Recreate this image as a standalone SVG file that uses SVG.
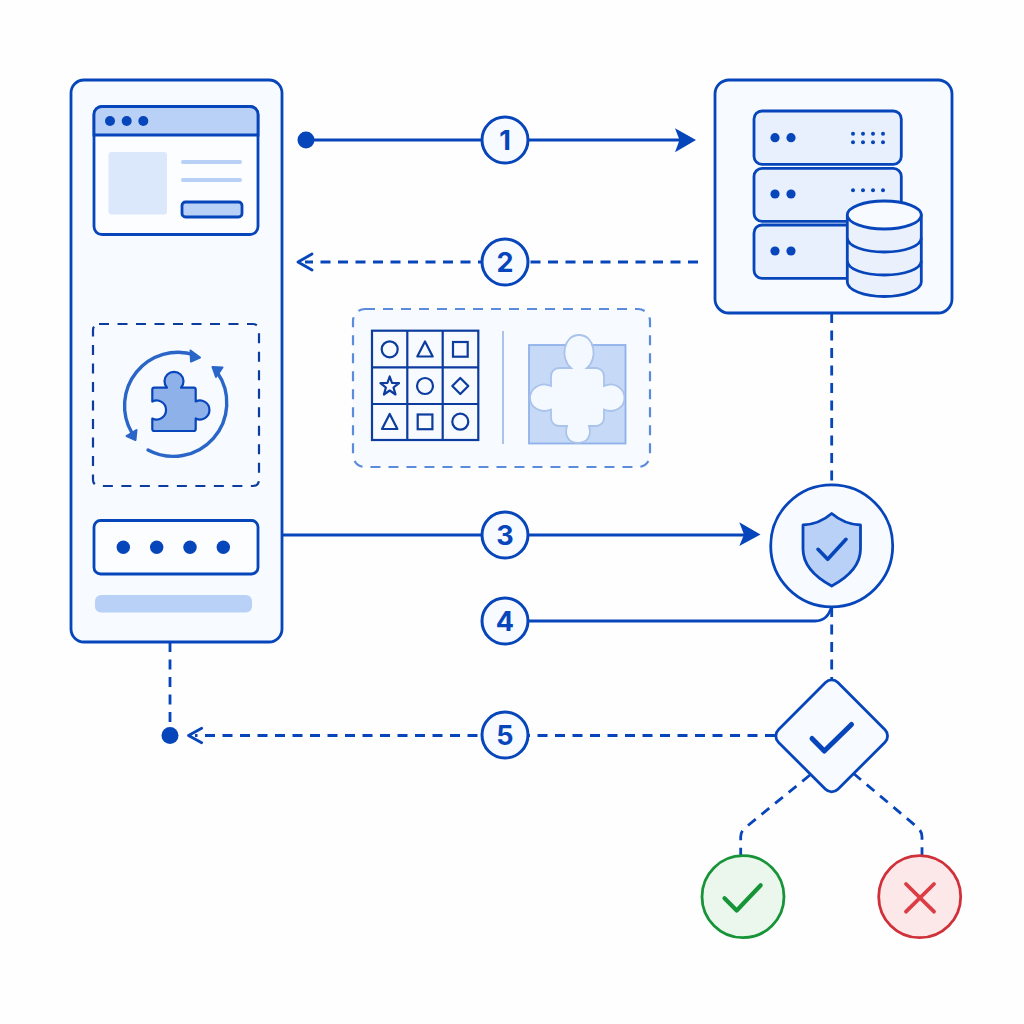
<svg xmlns="http://www.w3.org/2000/svg" width="1024" height="1024" viewBox="0 0 1024 1024">
<defs>
<style>
.s{fill:none;stroke:#0745bb;stroke-width:2.800;stroke-linecap:round;stroke-linejoin:round}
.p{fill:#f7faff;stroke:#0745bb;stroke-width:2.800}
.w{fill:#fbfdff;stroke:#0745bb;stroke-width:2.800}
.l{fill:#e8f0fd;stroke:#0745bb;stroke-width:2.800}
.c{fill:none;stroke:#0745bb;stroke-width:2.800}
.d{fill:#0745bb}
.dash{fill:none;stroke:#0745bb;stroke-width:2.800;stroke-dasharray:10 7.500}
.b{fill:#f7faff;stroke:#0745bb;stroke-width:3}
.n{font:700 27px Inter,"Liberation Sans",sans-serif;fill:#0745bb;text-anchor:middle}
.g{fill:none;stroke:#0b3c9e;stroke-width:2.200}
.h{fill:#b9d1f6}
.i{fill:#dbe7fa}
</style>
</defs>
<rect width="1024" height="1024" fill="#fefefe"/>

<g id="connectors">
<path class="c" d="M306 140H690"/>
<polygon class="d" points="675,128.300 696,140 675,152.300 679.500,140"/>
<path class="dash" d="M698 262H305"/>
<path class="s" d="M312 254L298 262L312 270"/>
<path class="c" d="M282 535H750"/>
<polygon class="d" points="739.300,522.300 760.500,534.500 739.300,546 744,534.500"/>
<path class="c" d="M505 621H815Q828 621 831.700 606"/>
<path class="dash" d="M831.700 313V486"/>
<path class="dash" d="M831.700 607V680"/>
<path class="dash" d="M775 735.500H195"/>
<path class="s" d="M201.700 728.300L188.500 735.500L201.700 742.700"/>
<path class="dash" d="M170 642V727"/>
<path class="dash" d="M810 775L745.500 827.500Q740.700 831 740.700 837V855"/>
<path class="dash" d="M853.300 773.300L916.700 826.700Q922 831 922 837V855"/>
<circle class="d" cx="306" cy="140" r="8.500"/>
<circle class="d" cx="170" cy="735.500" r="8.500"/>
</g>

<g id="client-panel">
<rect class="p" x="71" y="80" width="211" height="562" rx="13"/>
</g>

<g id="browser-window">
<rect class="w" x="94" y="106.500" width="164" height="128" rx="8"/>
<path d="M94 135V114.500a8 8 0 0 1 8-8H250a8 8 0 0 1 8 8V135Z" class="h" stroke="#0745bb" stroke-width="2.800"/>
<circle class="d" cx="110" cy="121" r="5"/>
<circle class="d" cx="126.700" cy="121" r="5"/>
<circle class="d" cx="143.300" cy="121" r="5"/>
<rect class="i" x="108.500" y="152" width="58.500" height="62.500" rx="3"/>
<rect class="h" x="181" y="160" width="61" height="4" rx="2"/>
<rect class="h" x="181" y="178" width="61" height="4" rx="2"/>
<rect x="182" y="202" width="60" height="15" rx="3.500" class="h" stroke="#0745bb" stroke-width="2.800"/>
</g>

<g id="puzzle-solver">
<rect x="93" y="324" width="166" height="162" rx="6" fill="none" stroke="#0b3c9e" stroke-width="2.200" stroke-dasharray="10 8.500"/>
<path d="M132 433A53.500 53.500 0 0 1 195 355" fill="none" stroke="#2a65c8" stroke-width="3.400"/>
<polygon points="200,357.500 191,361.500 190.500,350.500" fill="#2a65c8" stroke="#2a65c8" stroke-width="2" stroke-linejoin="round"/>
<polygon points="135.500,440 126.500,436 136.500,430" fill="#2a65c8" stroke="#2a65c8" stroke-width="2" stroke-linejoin="round"/>
<path d="M148 450A53.500 53.500 0 0 0 217 372" fill="none" stroke="#2a65c8" stroke-width="3.400" stroke-linecap="round"/>
<polygon points="212.500,367 222.500,367.500 216,377" fill="#2a65c8" stroke="#2a65c8" stroke-width="2" stroke-linejoin="round"/>
<path d="M154.300 387.700H167A9.500 9.500 0 1 1 181 387.700H193.700a2 2 0 0 1 2 2V401.500A9.500 9.500 0 1 1 195.700 418.500V429a2 2 0 0 1 -2 2H154.300a2 2 0 0 1 -2 -2V418.500A9.500 9.500 0 1 0 152.300 401.500V389.700a2 2 0 0 1 2 -2Z" fill="#8fb1ea" stroke="#0745bb" stroke-width="2.200" stroke-linejoin="round"/>
</g>

<g id="password-field">
<rect class="w" x="94" y="520.500" width="164" height="53.500" rx="6.500"/>
<circle class="d" cx="123.300" cy="547.300" r="6.700"/>
<circle class="d" cx="156.700" cy="547.300" r="6.700"/>
<circle class="d" cx="190" cy="547.300" r="6.700"/>
<circle class="d" cx="223.300" cy="547.300" r="6.700"/>
</g>

<g id="submit-bar">
<rect class="h" x="95" y="595" width="157" height="17.500" rx="6"/>
</g>

<g id="captcha-panel">
<rect x="353" y="309" width="297" height="158" rx="12" fill="#f7faff" stroke="#5b8bdc" stroke-width="2.200" stroke-dasharray="10 8"/>
<rect x="372" y="330.700" width="106.300" height="109.300" fill="#fbfdff" class="g"/>
<path class="g" d="M407.300 330.700V440M442.700 330.700V440M372 367.300H478.300M372 404H478.300"/>
<circle class="g" cx="389.700" cy="349.300" r="8"/>
<path class="g" d="M425 341.500L432.700 356.500H417.300Z" stroke-linejoin="round"/>
<rect class="g" x="453" y="342" width="14.700" height="14.700"/>
<polygon class="g" stroke-linejoin="round" points="389.700,376.500 392,383 399,383.200 393.500,387.500 395.500,394.500 389.700,390.500 383.900,394.500 385.900,387.500 380.400,383.200 387.400,383"/>
<circle class="g" cx="425" cy="386" r="8"/>
<polygon class="g" stroke-linejoin="round" points="460.300,378 468.300,386 460.300,394 452.300,386"/>
<path class="g" d="M389.700 414L397.400 429H382Z" stroke-linejoin="round"/>
<rect class="g" x="417.700" y="414.500" width="14.700" height="14.700"/>
<circle class="g" cx="460.300" cy="421.700" r="8"/>
<path d="M503 331V444" stroke="#a9c3ea" stroke-width="2" fill="none"/>
<rect x="529" y="345" width="96.500" height="98.500" fill="#c6d9f7" stroke="#8fb1ea" stroke-width="1.800"/>
<path d="M571 368C560 359 563 335 579 335C595 335 598 359 587 368H596a8 8 0 0 1 8 8V386C615 381 624.500 389 624.500 398C624.500 407 615 414 604 409.500V418a8 8 0 0 1 -8 8H589C592 436 587 443 578 443C569 443 564 436 567 426H559a8 8 0 0 1 -8 -8V409.500C540 414 530 407 530 398C530 389 540 381 551 386V376a8 8 0 0 1 8 -8Z" fill="#f4f8ff" stroke="#a9c3ea" stroke-width="1.800"/>
</g>

<g id="server-panel">
<rect class="p" x="715" y="80" width="237" height="233" rx="14"/>
<rect class="l" x="754" y="111" width="147.300" height="53.300" rx="8"/>
<rect class="l" x="754" y="168.300" width="147.300" height="53" rx="8"/>
<rect class="l" x="754" y="225" width="147.300" height="53.300" rx="8"/>
<g class="d">
<circle cx="775" cy="137.700" r="4.600"/><circle cx="791" cy="137.700" r="4.600"/>
<circle cx="775" cy="194" r="4.600"/><circle cx="791" cy="194" r="4.600"/>
<circle cx="775" cy="251" r="4.600"/><circle cx="791" cy="251" r="4.600"/>
<circle cx="853" cy="133.700" r="2"/><circle cx="863" cy="133.700" r="2"/><circle cx="873" cy="133.700" r="2"/><circle cx="883" cy="133.700" r="2"/>
<circle cx="853" cy="142.300" r="2"/><circle cx="863" cy="142.300" r="2"/><circle cx="873" cy="142.300" r="2"/><circle cx="883" cy="142.300" r="2"/>
<circle cx="853" cy="190.300" r="2"/><circle cx="863" cy="190.300" r="2"/><circle cx="873" cy="190.300" r="2"/><circle cx="883" cy="190.300" r="2"/>
</g>
</g>

<g id="database">
<path d="M847.300 215V282C847.300 290 864 296.500 884.300 296.500C904.600 296.500 921.300 290 921.300 282V215Z" fill="#eaf1fd" stroke="#0745bb" stroke-width="2.800" stroke-linejoin="round"/>
<ellipse cx="884.300" cy="215" rx="37" ry="14" fill="#f7faff" stroke="#0745bb" stroke-width="2.800"/>
<path class="c" d="M847.300 238C847.300 246 864 252 884.300 252C904.600 252 921.300 246 921.300 238"/>
<path class="c" d="M847.300 261C847.300 269 864 275 884.300 275C904.600 275 921.300 269 921.300 261"/>
</g>

<g id="verify-shield">
<circle class="p" cx="831.700" cy="545.800" r="61"/>
<path d="M831.700 513.500C823 521 814 524.500 803 525V549C803 565 815 577 831.700 586C848.400 577 860.500 565 860.500 549V525C849.500 524.500 840.400 521 831.700 513.500Z" fill="#b9d1f6" stroke="#0745bb" stroke-width="2.800" stroke-linejoin="round"/>
<path d="M818 549.300L827.700 559.300L846 539.300" fill="none" stroke="#0745bb" stroke-width="3.600" stroke-linecap="round" stroke-linejoin="round"/>
</g>

<g id="decision">
<path class="p" d="M825.500 682.500a8.800 8.800 0 0 1 12.400 0L885 729.800a8.800 8.800 0 0 1 0 12.400L837.900 789.300a8.800 8.800 0 0 1 -12.400 0L778.400 742.200a8.800 8.800 0 0 1 0 -12.400Z"/>
<path d="M812 738.500L824.300 751L851.500 724.500" fill="none" stroke="#0745bb" stroke-width="5" stroke-linecap="round" stroke-linejoin="round"/>
</g>

<g id="result-pass">
<circle cx="743" cy="896.700" r="41" fill="#ebf7ec" stroke="#169437" stroke-width="2.800"/>
<path d="M724.500 898.300L736.700 910.500L760.700 885.300" fill="none" stroke="#169437" stroke-width="4.200" stroke-linecap="round" stroke-linejoin="round"/>
</g>

<g id="result-fail">
<circle cx="919.700" cy="896.700" r="41" fill="#fce8e8" stroke="#d0303a" stroke-width="2.800"/>
<path d="M906 884L934 911.700M934 884L906 911.700" fill="none" stroke="#dc3c44" stroke-width="3.800" stroke-linecap="round"/>
</g>

<g id="step-1"><circle class="b" cx="505" cy="140" r="23"/><text class="n" x="505" y="150">1</text></g>
<g id="step-2"><circle class="b" cx="505" cy="262" r="23"/><text class="n" x="505" y="272">2</text></g>
<g id="step-3"><circle class="b" cx="505" cy="535" r="23"/><text class="n" x="505" y="545">3</text></g>
<g id="step-4"><circle class="b" cx="505" cy="621" r="23"/><text class="n" x="505" y="631">4</text></g>
<g id="step-5"><circle class="b" cx="505" cy="735" r="23"/><text class="n" x="505" y="745">5</text></g>
</svg>
